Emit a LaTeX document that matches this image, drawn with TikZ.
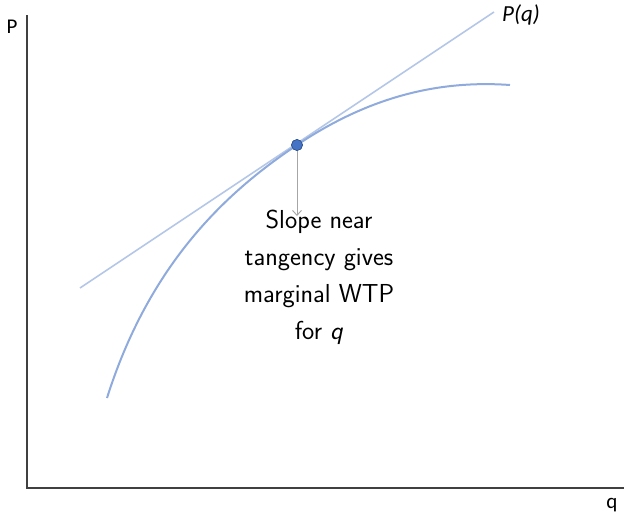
\documentclass[tikz,border=0pt]{standalone}
\usepackage{fontspec}
\newfontfamily\carlito{Carlito}
\usetikzlibrary{arrows.meta}
\definecolor{axisgray}{HTML}{404040}
\definecolor{tanblue}{HTML}{B4C7E7}
\definecolor{curveblue}{HTML}{8FAADC}
\definecolor{dotblue}{HTML}{4472C4}
\definecolor{dotedge}{HTML}{2F528F}
\tikzset{
  axisline/.style={draw=axisgray, line width=1.2pt},
  tanline/.style={draw=tanblue, line width=1.6pt},
  curveline/.style={draw=curveblue, line width=2pt},
  pointer/.style={draw=gray!70, line width=0.9pt, -{Straight Barb[length=5pt,width=9pt]}},
  axlabel/.style={font=\carlito\fontsize{21}{24}\selectfont, inner sep=0pt},
  note/.style={font=\sffamily\fontsize{26}{37}\selectfont, align=center, inner sep=0pt}
}
\begin{document}
\begin{tikzpicture}[x=1pt,y=-1pt]
\useasboundingbox (0,0) rectangle (624,517);
% axes
\coordinate (ytop) at (27,15);
\coordinate (origin) at (27,488);
\coordinate (xend) at (624,488);
\draw[axisline] (ytop) -- (origin) -- (xend);
\node[axlabel] (plab) at (12,27) {P};
\node[axlabel] (qlab) at (612,505) {q};
% tangent line
\coordinate (t1) at (80,288);
\coordinate (t2) at (494,12);
\draw[tanline] (t1) -- (t2);
\node[axlabel, font=\carlito\itshape\fontsize{23}{26}\selectfont, anchor=west] (pq) at (502,15) {P(q)};
% curve
\coordinate (c0) at (107,398);
\coordinate (c2) at (510,85);
\node[circle, fill=dotblue, draw=dotedge, line width=0.6pt, minimum size=11pt, inner sep=0pt] (dot) at (297,145) {};
\draw[curveline] (c0) .. controls (150,262) and (228,191) .. (dot.center)
  .. controls (370,96) and (440,80) .. (c2);
\node[circle, fill=dotblue, draw=dotedge, line width=0.6pt, minimum size=11pt, inner sep=0pt] at (297,145) {};
% note
\node[note] (txt) at (319,277) {Slope near\\tangency gives\\marginal WTP\\for \textit{q}};
\coordinate (arrend) at (297,216);
\draw[pointer] (dot.south) -- (arrend);
\end{tikzpicture}
\end{document}
